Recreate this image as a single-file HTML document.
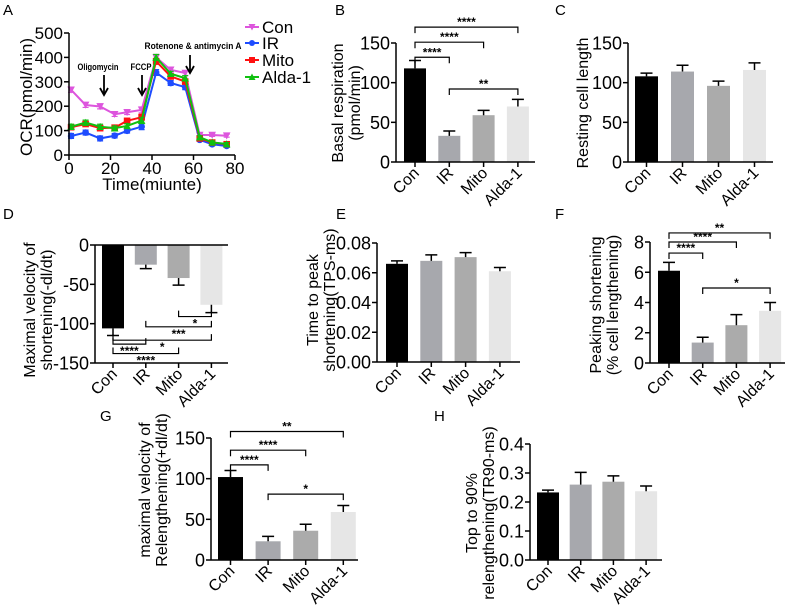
<!DOCTYPE html>
<html><head><meta charset="utf-8"><style>
html,body{margin:0;padding:0;background:#fff;}
svg{display:block;font-family:"Liberation Sans",Arial,sans-serif;}
</style></head><body>
<svg id="fig" width="789" height="608" viewBox="0 0 789 608"></svg>
<script>
// ---------- DATA ----------
const groups = ["Con","IR","Mito","Alda-1"];
// Panel A
const timeA = [1,8,15,22,28,35,42,49,56,63,69,76];
const ocrCon  = [267,205,199,167,175,185,400,349,336,82,82,79];
const ocrIR   = [78,92,68,79,99,116,338,295,278,62,44,37];
const ocrMito = [114,127,110,112,140,155,384,322,301,68,51,44];
const ocrAlda = [116,133,116,110,119,141,400,333,315,73,52,45];
const ocrErr  = [10,10,10,9,9,12,12,10,10,6,6,6];
const ticksA_y = [0,100,200,300,400,500];
const ticksA_x = [0,20,40,60,80];
// Panel B
const basalVals = [118,33,59,70];
const basalErrs = [10,6,6,9];
// Panel C
const restVals = [108,114,96,116];
const restErrs = [4,8,6,9];
// Panel D
const vmaxVals = [-106,-25,-42,-76];
const vmaxErrs = [9,5,9,10];
// Panel E
const tpsVals = [0.066,0.068,0.0705,0.061];
const tpsErrs = [0.002,0.004,0.003,0.0025];
// Panel F
const peakVals = [6.1,1.35,2.5,3.45];
const peakErrs = [0.55,0.35,0.7,0.55];
// Panel G
const relVals = [102,23,36,59];
const relErrs = [8,6,8,8];
// Panel H
const tr90Vals = [0.233,0.26,0.27,0.237];
const tr90Errs = [0.008,0.042,0.02,0.018];
// significance brackets: [groupA, groupB, yValue, label]
const sigB = [[0,3,170,"****"],[0,2,151,"****"],[0,1,132,"****"],[1,3,92,"**"]];
const sigD = [[2,3,-91,"*"],[1,3,-104,"***"],[0,3,-121,"*"],[0,1,-126,"****"],[0,2,-138,"****"]];
const sigF = [[0,3,8.6,"**"],[0,2,8.0,"****"],[0,1,7.27,"****"],[1,3,4.96,"*"]];
const sigG = [[0,3,158,"**"],[0,2,135,"****"],[0,1,117,"****"],[1,3,81,"*"]];
const ticksB = [0,50,100,150];
const ticksD = [0,-50,-100,-150];
const ticksE = [0,0.02,0.04,0.06,0.08];
const ticksF = [0,2,4,6,8];
const ticksH = [0,0.1,0.2,0.3,0.4];

// ---------- DRAW HELPERS ----------
const NS="http://www.w3.org/2000/svg";
const svg=document.getElementById('fig');
function mk(tag,attrs,parent,txt){const e=document.createElementNS(NS,tag);for(const k in attrs)e.setAttribute(k,attrs[k]);if(txt!==undefined)e.textContent=txt;(parent||svg).appendChild(e);return e;}
function grp(name,parent){const g=mk('g',{},parent);return g;}
const barColors=["#000000","#a7a8ad","#ababab","#e6e6e6"];

function barPanel(o,vals,errs,sig,ticks,fmt){
  const g=grp(o.name);
  const sy=v=>o.py0+(v-o.d0)/(o.d1-o.d0)*(o.py1-o.py0);
  const cx=i=>o.bx+i*o.pitch+o.bw/2;
  const base=sy(0);
  vals.forEach((v,i)=>{
    const y1=sy(v);
    const r=mk('rect',{x:o.bx+i*o.pitch,y:Math.min(y1,base),width:o.bw,height:Math.abs(y1-base),fill:barColors[i]},g);
    
    
    const dir=v>=0?1:-1;
    const ye=sy(v+dir*errs[i]);
    const e=mk('path',{d:`M${cx(i)},${y1}V${ye}M${cx(i)-6},${ye}H${cx(i)+6}`,stroke:'#000','stroke-width':1.5,fill:'none'},g);
    
    
  });
  const ax=mk('path',{d:`M${o.ax},${o.py1}V${o.py0}`,stroke:'#000','stroke-width':1.5,fill:'none'},g);
  
  
  ticks.forEach(t=>{
    const y=sy(t);
    mk('line',{x1:o.ax-5,x2:o.ax,y1:y,y2:y,stroke:'#000','stroke-width':1.5},g);
    const tx=mk('text',{x:o.ax-6,y:y+6.5,'text-anchor':'end','font-size':18},g,fmt?fmt(t):String(t));
    
    
  });
  const xl=o.xaxisY!==undefined?o.xaxisY:base;
  const xa=mk('line',{x1:o.ax,x2:o.axEnd,y1:xl,y2:xl,stroke:'#000','stroke-width':1.5},g);
  
  
  if(o.extraBase){mk('line',{x1:o.ax,x2:o.axEnd,y1:base,y2:base,stroke:'#000','stroke-width':1.5},g);}
  groups.forEach((n,i)=>{
    mk('line',{x1:cx(i),x2:cx(i),y1:xl,y2:xl+5,stroke:'#000','stroke-width':1.5},g);
    const lx=cx(i)+5, ly=xl+12;
    const t=mk('text',{x:lx,y:ly,'text-anchor':'end','font-size':16,transform:`rotate(-45 ${lx} ${ly})`},g,n);
    
    
  });
  (sig||[]).forEach(s=>{
    const y=sy(s[2]), x1=cx(s[0]), x2=cx(s[1]);
    const up=o.sigDown?-1:1;
    const p=mk('path',{d:`M${x1},${y+6*up}V${y}H${x2}V${y+6*up}`,stroke:'#000','stroke-width':1.2,fill:'none'},g);
    
    
    const ty=o.sigDown?y+11:y-1;
    const t=mk('text',{x:(x1+x2)/2,y:ty,'text-anchor':'middle','font-size':12,'font-weight':'bold'},g,s[3]);
    
    
  });
  o.title.forEach((line,k)=>{
    const x=o.tx[k], y=o.ty;
    const t=mk('text',{x:x,y:y,'text-anchor':'middle','font-size':16,transform:`rotate(-90 ${x} ${y})`},g,line);
    
    
  });
  const L=mk('text',{x:o.lx,y:o.ly,'font-size':15},g,o.letter);
  
  
}

// ---------- PANEL A ----------
(function(){
  const g=grp('panel-a-ocr-chart');
  const ax=69, py0=155, py1=33, xr=235;
  const sx=t=>ax+t/80*(xr-ax);
  const sy=v=>py0-v/500*(py0-py1);
  const series=[["con",ocrCon,"#dd55dd","tri-down"],["ir",ocrIR,"#1e4cff","circle"],["mito",ocrMito,"#ff1010","square"],["alda",ocrAlda,"#10c010","tri-up"]];
  function marker(gg,x,y,type,c,s){
    s=s||3.3;
    let m;
    if(type==="circle")m=mk('circle',{cx:x,cy:y,r:s,fill:c},gg);
    else if(type==="square")m=mk('rect',{x:x-s,y:y-s,width:2*s,height:2*s,fill:c},gg);
    else if(type==="tri-up")m=mk('path',{d:`M${x},${y-s-0.5}L${x+s+0.5},${y+s}L${x-s-0.5},${y+s}Z`,fill:c},gg);
    else m=mk('path',{d:`M${x},${y+s+0.5}L${x+s+0.5},${y-s}L${x-s-0.5},${y-s}Z`,fill:c},gg);
    return m;
  }
  series.forEach(s=>{
    const sg=grp('series-'+s[0],g);
    const d=s[1].map((v,i)=>(i?'L':'M')+sx(timeA[i])+','+sy(v)).join('');
    mk('path',{d:d,stroke:s[2],'stroke-width':2,fill:'none'},sg);
    s[1].forEach((v,i)=>{
      const x=sx(timeA[i]);
      mk('path',{d:`M${x},${sy(v-ocrErr[i])}V${sy(v+ocrErr[i])}M${x-3},${sy(v+ocrErr[i])}H${x+3}M${x-3},${sy(v-ocrErr[i])}H${x+3}`,stroke:s[2],'stroke-width':1.2},sg);
      const m=marker(sg,x,sy(v),s[3],s[2]);
      
      
    });
  });
  const ya=mk('path',{d:`M${ax},${py1}V${py0}H${xr}`,stroke:'#000','stroke-width':1.5,fill:'none'},g);
  
  
  ticksA_y.forEach(t=>{mk('line',{x1:ax-5,x2:ax,y1:sy(t),y2:sy(t),stroke:'#000','stroke-width':1.5},g);
    const tx=mk('text',{x:ax-6,y:sy(t)+6,'text-anchor':'end','font-size':17},g,t);
    
    });
  ticksA_x.forEach(t=>{mk('line',{x1:sx(t),x2:sx(t),y1:py0,y2:py0+5,stroke:'#000','stroke-width':1.5},g);
    const tx=mk('text',{x:sx(t),y:py0+19,'text-anchor':'middle','font-size':17},g,t);
    
    });
  let t=mk('text',{x:152,y:190,'text-anchor':'middle','font-size':17},g,'Time(miunte)');
  
  t=mk('text',{x:32,y:97,'text-anchor':'middle','font-size':17,transform:'rotate(-90 32 97)'},g,'OCR(pmol/min)');
  
  t=mk('text',{x:3,y:15,'font-size':15},g,'A');
  
  const ann=[["Oligomycin",98,70,104,75,95,41],["FCCP",141,70,142,75,95,21],["Rotenone & antimycin A",193,49,190,55,73,97]];
  ann.forEach(a=>{
    const at=mk('text',{x:a[1],y:a[2],'text-anchor':'middle','font-size':9,'font-weight':'bold',textLength:a[6],lengthAdjust:'spacingAndGlyphs'},g,a[0]);
    
    mk('path',{d:`M${a[3]},${a[4]}V${a[5]}`,stroke:'#000','stroke-width':1.8},g);
    mk('path',{d:`M${a[3]-4},${a[5]-7}L${a[3]},${a[5]}L${a[3]+4},${a[5]-7}`,stroke:'#000','stroke-width':1.8,fill:'none'},g);
  });
  const lg=grp('legend',g);
  const ly=[27,43,60,77];
  series.forEach((s,i)=>{
    const e=grp('legend-entry-'+s[0],lg);
    mk('line',{x1:245,x2:259,y1:ly[i],y2:ly[i],stroke:s[2],'stroke-width':2},e);
    marker(e,252,ly[i],s[3],s[2],3);
    mk('text',{x:262,y:ly[i]+6,'font-size':17},e,groups[i]);
  });
})();

// ---------- BAR PANELS ----------
barPanel({name:'panel-b-basal-respiration',ax:396,py0:162,py1:43,d0:0,d1:150,bx:404,pitch:34.3,bw:22,axEnd:535,
  title:["Basal respiration","(pmol/min)"],tx:[343,360],ty:103,letter:'B',lx:335,ly:15},basalVals,basalErrs,sigB,ticksB);
barPanel({name:'panel-c-resting-cell-length',ax:628,py0:162,py1:43,d0:0,d1:150,bx:635,pitch:36,bw:23,axEnd:773,
  title:["Resting cell length"],tx:[588],ty:103,letter:'C',lx:555,ly:15},restVals,restErrs,null,ticksB);
barPanel({name:'panel-d-max-velocity-shortening',ax:95,py0:363,py1:245,d0:-150,d1:0,bx:102,pitch:32.8,bw:22,axEnd:228,xaxisY:363,extraBase:true,sigDown:true,
  title:["Maximal velocity of","shortening(-dl/dt)"],tx:[35,52],ty:310,letter:'D',lx:3,ly:219},vmaxVals,vmaxErrs,sigD,ticksD);
barPanel({name:'panel-e-time-to-peak',ax:377,py0:362,py1:243,d0:0,d1:0.08,bx:386,pitch:34.3,bw:22,axEnd:520,
  title:["Time to peak","shortening(TPS-ms)"],tx:[318,335],ty:300,letter:'E',lx:336,ly:219},tpsVals,tpsErrs,null,ticksE,t=>t.toFixed(2));
barPanel({name:'panel-f-peak-shortening',ax:650,py0:363,py1:242,d0:0,d1:8,bx:658,pitch:33.7,bw:22,axEnd:785,
  title:["Peaking shortening","(% cell lengthening)"],tx:[601,618],ty:305,letter:'F',lx:555,ly:219},peakVals,peakErrs,sigF,ticksF);
barPanel({name:'panel-g-relengthening-velocity',ax:211,py0:560,py1:438,d0:0,d1:150,bx:218,pitch:37.6,bw:25,axEnd:358,
  title:["maximal velocity of","Relengthening(+dl/dt)"],tx:[150,167],ty:490,letter:'G',lx:100,ly:421},relVals,relErrs,sigG,ticksB);
barPanel({name:'panel-h-tr90',ax:530,py0:560,py1:444,d0:0,d1:0.4,bx:537,pitch:32.7,bw:22,axEnd:662,
  title:["Top to 90%","relengthening(TR90-ms)"],tx:[477,494],ty:513,letter:'H',lx:434,ly:421},tr90Vals,tr90Errs,null,ticksH,t=>t.toFixed(1));
</script>
</body></html>
